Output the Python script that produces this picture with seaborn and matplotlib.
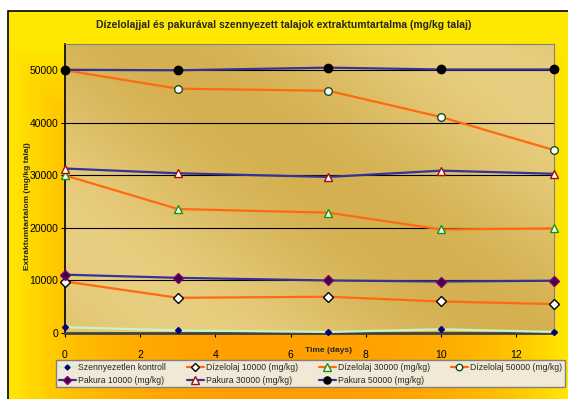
import numpy as np
import pandas as pd
import seaborn as sns
import matplotlib.pyplot as plt
from matplotlib.patches import Rectangle
from matplotlib.lines import Line2D

# Data
days = [0, 3, 7, 10, 13]
kontroll = [1100, 500, 200, 700, 200]
dizel_10000 = [9800, 6700, 6900, 6000, 5500]
dizel_30000 = [30000, 23600, 22900, 19700, 19900]
dizel_50000 = [50000, 46500, 46100, 41100, 34800]
pakura_10000 = [11100, 10500, 10000, 9800, 9950]
pakura_30000 = [31300, 30400, 29700, 30900, 30300]
pakura_50000 = [50100, 50000, 50500, 50150, 50150]

labels = ["Szennyezetlen kontroll", "Dízelolaj 10000 (mg/kg)", "Dízelolaj 30000 (mg/kg)",
          "Dízelolaj 50000 (mg/kg)", "Pakura 10000 (mg/kg)", "Pakura 30000 (mg/kg)",
          "Pakura 50000 (mg/kg)"]
series = [kontroll, dizel_10000, dizel_30000, dizel_50000, pakura_10000, pakura_30000, pakura_50000]

# styles: line colour, marker, face, edge, size
styles = [
    ("#c8f5c8", "D", "#000080", "#000080", 3),
    ("#ff6a10", "D", "white", "black", 5),
    ("#ff6a10", "^", "white", "#129612", 6),
    ("#ff6a10", "o", "white", "#1a4d1a", 5.5),
    ("#333399", "D", "#400040", "#800080", 5),
    ("#333399", "^", "white", "#a01010", 6),
    ("#333399", "o", "black", "black", 6),
]

sns.set_style("white")
plt.rcParams["font.family"] = ["Liberation Sans Narrow", "Liberation Sans", "DejaVu Sans"]

fig = plt.figure(figsize=(5.68, 3.99), dpi=100)
fig.patch.set_facecolor("white")

# yellow/orange chart background
bg = fig.add_axes([8 / 568, 0, 1 - 8 / 568, 1 - 11 / 399])
gx, gy = np.meshgrid(np.linspace(0, 1, 300), np.linspace(0, 1, 300))
d = np.clip(np.maximum(np.abs(gx - 0.5) * 2, (1 - gy) * 1.1), 0, 1) ** 3
yellow = np.array([255, 232, 0]) / 255
orange = np.array([255, 160, 0]) / 255
img = orange[None, None, :] * (1 - d[..., None]) + yellow[None, None, :] * d[..., None]
bg.imshow(img, extent=[0, 1, 0, 1], aspect="auto", origin="upper")
bg.set_axis_off()
fig.add_artist(Rectangle((8 / 568, -0.01), 1.0, 1 - 11 / 399 + 0.01, transform=fig.transFigure,
                         fill=False, edgecolor="black", linewidth=1.2, zorder=10))

ax = fig.add_axes([65 / 568, 1 - 333 / 399, (554 - 65) / 568, (333 - 44) / 399])
ax.set_facecolor("none")
# tan plot area with soft diagonal light streaks
px, py = np.meshgrid(np.linspace(0, 1, 400), np.linspace(0, 1, 400))
t = px * 0.8 + (1 - py) * 0.6
w = 0.5 + 0.5 * np.sin(t * 6.0 + 0.3)
dark = np.array([212, 176, 80]) / 255
light = np.array([232, 206, 128]) / 255
pimg = dark[None, None, :] * (1 - w[..., None]) + light[None, None, :] * w[..., None]
ax.imshow(pimg, extent=[0, 13, 0, 55000], aspect="auto", origin="upper", zorder=0)

for lab, vals, (lc, mk, mf, me, ms) in zip(labels, series, styles):
    sns.lineplot(x=days, y=vals, ax=ax, color=lc, linewidth=1.6, marker=mk, markersize=ms,
                 markerfacecolor=mf, markeredgecolor=me, markeredgewidth=1.0,
                 label=lab, legend=False, zorder=3, clip_on=False)

ax.set_xlim(0, 13)
ax.set_ylim(0, 55000)
ax.set_xticks([0, 2, 4, 6, 8, 10, 12])
ax.set_yticks([0, 10000, 20000, 30000, 40000, 50000])
ax.set_yticklabels(["0", "10000", "20000", "30000", "40000", "50000"])
ax.grid(False)
for yv in [10000, 20000, 30000, 40000, 50000]:
    ax.axhline(yv, color="black", linewidth=0.8, zorder=1)
ax.tick_params(axis="both", direction="out", length=3, width=0.8, colors="black",
               labelsize=7.5, pad=2, bottom=True, left=True)
ax.tick_params(axis="x", pad=9)
for s in ["left", "bottom"]:
    ax.spines[s].set_color("black")
    ax.spines[s].set_linewidth(1.2)
ax.spines["bottom"].set_color("#404040")
ax.spines["bottom"].set_linewidth(2)
for s in ["top", "right"]:
    ax.spines[s].set_color("#808080")
    ax.spines[s].set_linewidth(0.8)
    ax.spines[s].set_visible(True)

ax.set_ylabel("Extraktumtartalom (mg/kg talaj)", fontsize=6, fontweight="bold")
ax.yaxis.set_label_coords(-0.07, 0.44)
ax.set_xlabel("")
ax.text(7.0, -3400, "Time (days)", fontsize=6, fontweight="bold", ha="center", va="center")

fig.text(0.5, 1 - 25 / 399, "Dízelolajjal és pakurával szennyezett talajok extraktumtartalma (mg/kg talaj)",
         ha="center", va="center", fontsize=7.5, fontweight="bold")

# legend, row-wise order
handles = [Line2D([0], [0], color=lc, linewidth=1.6, marker=mk, markersize=ms * 0.85,
                  markerfacecolor=mf, markeredgecolor=me) for (lc, mk, mf, me, ms) in styles]
order = [0, 4, 1, 5, 2, 6, 3]
leg = fig.legend([handles[i] for i in order], [labels[i] for i in order], ncol=4,
                 loc="upper left", bbox_to_anchor=(56 / 568, 1 - 360 / 399),
                 fontsize=6.2, frameon=True, fancybox=False, borderaxespad=0,
                 handlelength=2.0, handletextpad=0.25, columnspacing=2.4, labelspacing=0.5,
                 borderpad=0.3)
leg.get_frame().set_facecolor("#f1e9d6")
leg.get_frame().set_edgecolor("#808080")
leg.get_frame().set_alpha(1)

fig.savefig("out.png", dpi=100)
